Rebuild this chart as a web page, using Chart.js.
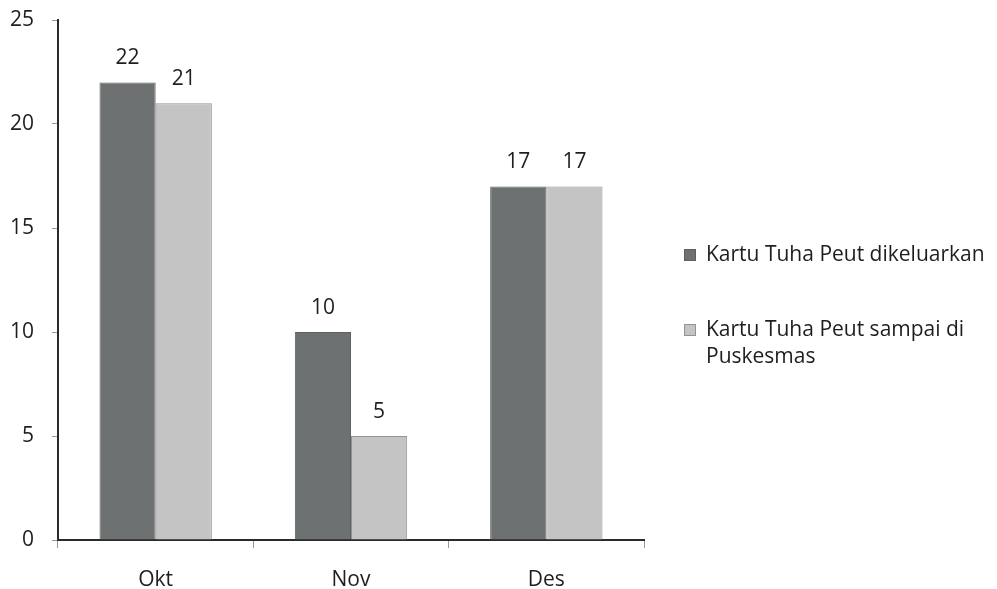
<!DOCTYPE html>
<html lang="id">
<head>
  <meta charset="UTF-8" />
  <title>Kartu Tuha Peut</title>
  <script src="https://cdn.jsdelivr.net/npm/chart.js"></script>
  <style>
    html, body { margin: 0; padding: 0; background: #fff; }
    .wrap { position: relative; width: 997px; height: 589px; }
  </style>
</head>
<body>
  <div class="wrap"><canvas id="chart" width="997" height="589"></canvas></div>

  <script>
    // data
    const months = ["Okt", "Nov", "Des"];
    const dikeluarkan = [22, 10, 17];
    const sampai = [21, 5, 17];
    const seriesNames = [
      ["Kartu Tuha Peut dikeluarkan"],
      ["Kartu Tuha Peut sampai di", "Puskesmas"]
    ];
    const yMax = 25;
    const yStep = 5;

    const FONT = "'Open Sans', sans-serif";
    const darkFill = "#6d7171", darkLine = "#5c6060";
    const lightFill = "#c4c4c4", lightLine = "#939393";

    // value labels above each bar
    const valueLabels = {
      id: "valueLabels",
      afterDatasetsDraw(chart) {
        const ctx = chart.ctx;
        ctx.save();
        ctx.font = "21px " + FONT;
        ctx.fillStyle = "#1e1e1e";
        ctx.textAlign = "center";
        ctx.textBaseline = "alphabetic";
        chart.data.datasets.forEach((ds, i) => {
          chart.getDatasetMeta(i).data.forEach((bar, j) => {
            ctx.fillText(ds.data[j], bar.x, bar.y - 18);
          });
        });
        ctx.restore();
      }
    };

    // legend on the right, second label wraps onto two lines
    const sideLegend = {
      id: "sideLegend",
      afterDraw(chart) {
        const ctx = chart.ctx;
        const rows = [255, 330];
        ctx.save();
        ctx.font = "21px " + FONT;
        ctx.textBaseline = "middle";
        ctx.textAlign = "left";
        chart.data.datasets.forEach((ds, i) => {
          const y = rows[i];
          ctx.fillStyle = ds.backgroundColor;
          ctx.strokeStyle = ds.borderColor;
          ctx.lineWidth = 1;
          ctx.fillRect(684, y - 6, 12, 12);
          ctx.strokeRect(684.5, y - 5.5, 11, 11);
          ctx.fillStyle = "#1e1e1e";
          seriesNames[i].forEach((line, k) => {
            ctx.fillText(line, 706, y + k * 27);
          });
        });
        ctx.restore();
      }
    };

    new Chart(document.getElementById("chart"), {
      type: "bar",
      data: {
        labels: months,
        datasets: [
          { label: seriesNames[0].join(" "), data: dikeluarkan, backgroundColor: darkFill, borderColor: darkLine, borderWidth: 1 },
          { label: seriesNames[1].join(" "), data: sampai, backgroundColor: lightFill, borderColor: lightLine, borderWidth: 1 }
        ]
      },
      options: {
        responsive: false,
        animation: false,
        layout: { padding: { left: 0, top: 20, right: 353, bottom: 0 } },
        datasets: { bar: { categoryPercentage: 0.575, barPercentage: 1 } },
        plugins: { legend: { display: false }, tooltip: { enabled: false } },
        scales: {
          x: {
            grid: { display: true, drawOnChartArea: false, drawTicks: true, tickLength: 8, color: "#9a9a9a", offset: true },
            border: { display: true, color: "#2a2a2a", width: 2 },
            ticks: { font: { family: FONT, size: 21 }, color: "#1e1e1e", padding: 19 },
            afterFit(scale) { scale.height = 49; scale.paddingLeft = 0; scale.paddingRight = 0; }
          },
          y: {
            min: 0,
            max: yMax,
            grid: { display: true, drawOnChartArea: false, drawTicks: true, tickLength: 6, color: "#9a9a9a" },
            border: { display: true, color: "#2a2a2a", width: 2 },
            ticks: { stepSize: yStep, font: { family: FONT, size: 21 }, color: "#1e1e1e", padding: 18 },
            afterFit(scale) { scale.width = 58; scale.paddingTop = 0; scale.paddingBottom = 0; }
          }
        }
      },
      plugins: [valueLabels, sideLegend]
    });
  </script>
</body>
</html>
